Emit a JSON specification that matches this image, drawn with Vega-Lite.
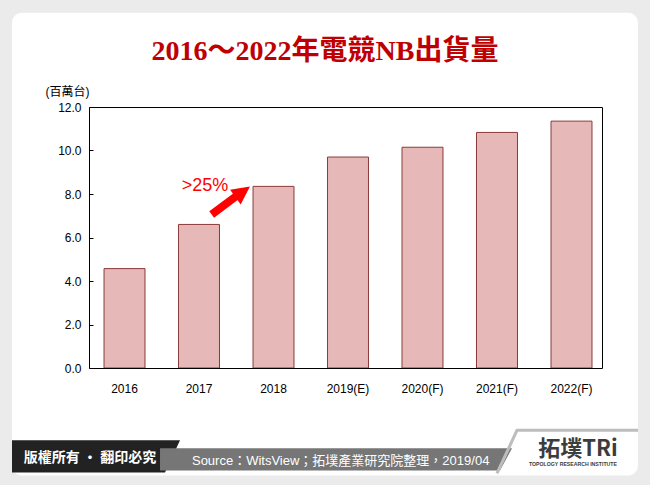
{
  "$schema": "https://vega.github.io/schema/vega-lite/v6.json",
  "width": 513,
  "height": 261,
  "autosize": {"type": "none"},
  "padding": {"left": 89, "top": 107, "right": 48, "bottom": 117},
  "background": "#ebebeb",
  "config": {"view": {"stroke": null}, "font": "Liberation Sans"},
  "datasets": {
    "bars": [
      {"year": "2016", "value": 4.57},
      {"year": "2017", "value": 6.6},
      {"year": "2018", "value": 8.35},
      {"year": "2019(E)", "value": 9.7},
      {"year": "2020(F)", "value": 10.15},
      {"year": "2021(F)", "value": 10.83},
      {"year": "2022(F)", "value": 11.35}
    ],
    "panel": [{"u1": -1.051, "u2": 7.491, "v1": 16.338, "v2": -4.938}],
    "arrow": [{"u1": 1.674, "v1": 7.06, "u2": 2.06, "v2": 8.03}],
    "arrowhead": [{"u": 2.097, "v": 8.1}],
    "darkband": [
      {"u": -1.051, "v": -3.323, "v2": -4.8},
      {"u": 1.037, "v": -3.323, "v2": -4.8},
      {"u": 1.242, "v": -3.323, "v2": -3.323}
    ],
    "greyband": [
      {"u": 0.969, "v": -3.692, "v2": -4.708},
      {"u": 5.608, "v": -3.692, "v2": -4.708},
      {"u": 5.772, "v": -3.692, "v2": -3.692}
    ],
    "logoline": [
      {"k": 1, "u": 5.567, "v": -4.846},
      {"k": 2, "u": 5.84, "v": -2.862},
      {"k": 3, "u": 7.491, "v": -2.862}
    ],
    "texts": [
      {"id": "title", "text": "2016～2022年電競NB出貨量", "u": 3.22, "v": 14.17},
      {"id": "growth", "text": ">25%", "u": 1.583, "v": 8.35},
      {"id": "copyright", "text": "版權所有 · 翻印必究", "u": 0.0136, "v": -4.154},
      {"id": "source", "text": "Source：WitsView；拓墣產業研究院整理，2019/04", "u": 1.405, "v": -4.292},
      {"id": "logo", "text": "拓墣TRi", "u": 6.672, "v": -3.738},
      {"id": "logosub", "text": "TOPOLOGY RESEARCH INSTITUTE", "u": 6.604, "v": -4.431}
    ]
  },
  "resolve": {"scale": {"x": "independent", "y": "independent"}},
  "layer": [
    {
      "data": {"name": "panel"},
      "mark": {"type": "rect", "fill": "#ffffff", "cornerRadius": 10},
      "encoding": {
        "x": {"field": "u1", "type": "quantitative", "scale": {"domain": [0, 7], "nice": false, "zero": false}, "axis": null},
        "x2": {"field": "u2"},
        "y": {"field": "v1", "type": "quantitative", "scale": {"domain": [0, 12], "nice": false, "zero": false}, "axis": null},
        "y2": {"field": "v2"}
      }
    },
    {
      "data": {"name": "bars"},
      "mark": {"type": "bar", "fill": "#e6b8b7", "stroke": "#8b3a3a", "strokeWidth": 1},
      "encoding": {
        "x": {
          "field": "year", "type": "nominal", "sort": null,
          "scale": {"paddingInner": 0.45, "paddingOuter": 0.168, "align": 0.6},
          "axis": {
            "orient": "bottom", "title": null, "labelAngle": 0, "ticks": false, "tickSize": 0,
            "labelPadding": 15, "labelFontSize": 12, "labelColor": "#000000", "labelFont": "Liberation Sans",
            "domainColor": "#000000", "domainWidth": 1, "grid": false, "zindex": 1
          }
        },
        "y": {
          "field": "value", "type": "quantitative",
          "scale": {"domain": [0, 12], "nice": false},
          "axis": {
            "orient": "left", "values": [0, 2, 4, 6, 8, 10, 12], "format": ".1f",
            "grid": false, "tickSize": -4, "tickColor": "#000000", "labelPadding": 12,
            "labelFontSize": 12, "labelColor": "#000000", "labelFont": "Liberation Sans",
            "domainColor": "#000000", "domainWidth": 1, "zindex": 1,
            "title": "(百萬台)", "titleAngle": 0, "titleX": -44, "titleY": -16,
            "titleAlign": "left", "titleBaseline": "middle", "titleFontSize": 12,
            "titleFontWeight": "normal", "titleColor": "#000000", "titleFont": "Liberation Sans, Noto Sans CJK TC"
          }
        }
      }
    },
    {
      "data": {"name": "arrow"},
      "mark": {"type": "rule", "color": "#ff0000", "strokeWidth": 8, "strokeCap": "butt"},
      "encoding": {
        "x": {"field": "u1", "type": "quantitative", "scale": {"domain": [0, 7], "nice": false, "zero": false},
          "axis": {"orient": "top", "labels": false, "ticks": false, "title": null, "grid": false, "domainColor": "#000000", "zindex": 1}},
        "x2": {"field": "u2"},
        "y": {"field": "v1", "type": "quantitative", "scale": {"domain": [0, 12], "nice": false, "zero": false},
          "axis": {"orient": "right", "labels": false, "ticks": false, "title": null, "grid": false, "domainColor": "#000000", "zindex": 1}},
        "y2": {"field": "v2"}
      }
    },
    {
      "data": {"name": "arrowhead"},
      "mark": {"type": "point", "shape": "M-1,-1L1,0L-1,1Z", "size": 324, "angle": -36, "filled": true, "fill": "#ff0000", "strokeWidth": 0, "opacity": 1},
      "encoding": {
        "x": {"field": "u", "type": "quantitative", "scale": {"domain": [0, 7], "nice": false, "zero": false}, "axis": null},
        "y": {"field": "v", "type": "quantitative", "scale": {"domain": [0, 12], "nice": false, "zero": false}, "axis": null}
      }
    },
    {
      "data": {"name": "darkband"},
      "mark": {"type": "area", "fill": "#222222", "orient": "vertical"},
      "encoding": {
        "x": {"field": "u", "type": "quantitative", "scale": {"domain": [0, 7], "nice": false, "zero": false}, "axis": null},
        "y": {"field": "v", "type": "quantitative", "stack": null, "scale": {"domain": [0, 12], "nice": false, "zero": false}, "axis": null},
        "y2": {"field": "v2"}
      }
    },
    {
      "data": {"name": "greyband"},
      "mark": {"type": "area", "fill": "#767676", "orient": "vertical"},
      "encoding": {
        "x": {"field": "u", "type": "quantitative", "scale": {"domain": [0, 7], "nice": false, "zero": false}, "axis": null},
        "y": {"field": "v", "type": "quantitative", "stack": null, "scale": {"domain": [0, 12], "nice": false, "zero": false}, "axis": null},
        "y2": {"field": "v2"}
      }
    },
    {
      "data": {"name": "logoline"},
      "mark": {"type": "line", "color": "#bdbdbd", "strokeWidth": 3},
      "encoding": {
        "x": {"field": "u", "type": "quantitative", "scale": {"domain": [0, 7], "nice": false, "zero": false}, "axis": null},
        "y": {"field": "v", "type": "quantitative", "scale": {"domain": [0, 12], "nice": false, "zero": false}, "axis": null},
        "order": {"field": "k", "type": "quantitative"}
      }
    },
    {
      "data": {"name": "texts"},
      "transform": [{"filter": "datum.id === 'title'"}],
      "mark": {"type": "text", "font": "Liberation Serif, Noto Sans CJK TC", "fontWeight": "bold", "fontSize": 28, "color": "#c00000", "align": "center", "baseline": "alphabetic"},
      "encoding": {
        "x": {"field": "u", "type": "quantitative", "scale": {"domain": [0, 7], "nice": false, "zero": false}, "axis": null},
        "y": {"field": "v", "type": "quantitative", "scale": {"domain": [0, 12], "nice": false, "zero": false}, "axis": null},
        "text": {"field": "text"}
      }
    },
    {
      "data": {"name": "texts"},
      "transform": [{"filter": "datum.id === 'growth'"}],
      "mark": {"type": "text", "font": "Liberation Sans", "fontSize": 18, "color": "#ff0000", "align": "center", "baseline": "middle"},
      "encoding": {
        "x": {"field": "u", "type": "quantitative", "scale": {"domain": [0, 7], "nice": false, "zero": false}, "axis": null},
        "y": {"field": "v", "type": "quantitative", "scale": {"domain": [0, 12], "nice": false, "zero": false}, "axis": null},
        "text": {"field": "text"}
      }
    },
    {
      "data": {"name": "texts"},
      "transform": [{"filter": "datum.id === 'copyright'"}],
      "mark": {"type": "text", "font": "Noto Sans CJK TC", "fontWeight": "bold", "fontSize": 14, "color": "#ffffff", "align": "center", "baseline": "middle"},
      "encoding": {
        "x": {"field": "u", "type": "quantitative", "scale": {"domain": [0, 7], "nice": false, "zero": false}, "axis": null},
        "y": {"field": "v", "type": "quantitative", "scale": {"domain": [0, 12], "nice": false, "zero": false}, "axis": null},
        "text": {"field": "text"}
      }
    },
    {
      "data": {"name": "texts"},
      "transform": [{"filter": "datum.id === 'source'"}],
      "mark": {"type": "text", "font": "Liberation Sans, Noto Sans CJK TC", "fontSize": 13, "color": "#ffffff", "align": "left", "baseline": "middle"},
      "encoding": {
        "x": {"field": "u", "type": "quantitative", "scale": {"domain": [0, 7], "nice": false, "zero": false}, "axis": null},
        "y": {"field": "v", "type": "quantitative", "scale": {"domain": [0, 12], "nice": false, "zero": false}, "axis": null},
        "text": {"field": "text"}
      }
    },
    {
      "data": {"name": "texts"},
      "transform": [{"filter": "datum.id === 'logo'"}],
      "mark": {"type": "text", "font": "Noto Sans CJK TC", "fontWeight": "bold", "fontSize": 22, "color": "#3c3c3c", "align": "center", "baseline": "middle"},
      "encoding": {
        "x": {"field": "u", "type": "quantitative", "scale": {"domain": [0, 7], "nice": false, "zero": false}, "axis": null},
        "y": {"field": "v", "type": "quantitative", "scale": {"domain": [0, 12], "nice": false, "zero": false}, "axis": null},
        "text": {"field": "text"}
      }
    },
    {
      "data": {"name": "texts"},
      "transform": [{"filter": "datum.id === 'logosub'"}],
      "mark": {"type": "text", "font": "Liberation Sans", "fontWeight": "bold", "fontSize": 5.2, "color": "#3c3c3c", "align": "center", "baseline": "middle"},
      "encoding": {
        "x": {"field": "u", "type": "quantitative", "scale": {"domain": [0, 7], "nice": false, "zero": false}, "axis": null},
        "y": {"field": "v", "type": "quantitative", "scale": {"domain": [0, 12], "nice": false, "zero": false}, "axis": null},
        "text": {"field": "text"}
      }
    }
  ]
}
